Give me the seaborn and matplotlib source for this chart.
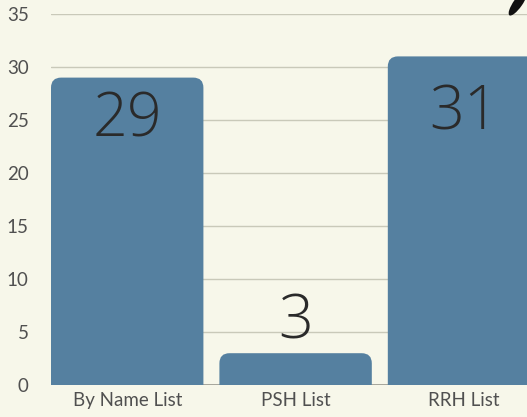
import matplotlib
matplotlib.use("Agg")
import matplotlib.pyplot as plt
from matplotlib.patches import FancyBboxPatch, Ellipse
import seaborn as sns
import pandas as pd

categories = ["By Name List", "PSH List", "RRH List"]
counts = [29, 3, 31]
# where each big number sits (baseline, in data units)
label_y = [23.4, 4.4, 24.1]

bg = "#f7f7ea"
bar_color = "#5580a0"

sns.set_theme(style="whitegrid")
plt.rcParams["font.family"] = ["Lato", "DejaVu Sans"]

df = pd.DataFrame({"list": categories, "count": counts})

fig = plt.figure(figsize=(5.27, 4.17), dpi=100, facecolor=bg)
ax = fig.add_axes([51 / 527, 32 / 417, 1 - 51 / 527, 371 / 417])
ax.set_facecolor(bg)

sns.barplot(data=df, x="list", y="count", color=bar_color, width=0.905,
            saturation=1, ax=ax, zorder=2)

ax.set_ylim(0, 35)
ax.set_xlim(-0.4525, 2.374)

# swap plain bars for ones with rounded tops
ratio = (168.5 / 10.6)
for p in list(ax.patches):
    x, w, h = p.get_x(), p.get_width(), p.get_height()
    rb = FancyBboxPatch((x, -2), w, h + 2,
                        boxstyle="round,pad=0,rounding_size=0.06",
                        mutation_aspect=ratio,
                        facecolor=bar_color, edgecolor="none", zorder=2)
    p.remove()
    ax.add_patch(rb)

for i, v in enumerate(counts):
    ax.text(i, label_y[i], str(v), ha="center", va="baseline", fontsize=44,
            family="Open Sans", fontweight="light", color="#2a2a2a", zorder=3)

ax.set_yticks(range(0, 36, 5))
ax.grid(axis="y", color="#c9c9b9", linewidth=1)
ax.grid(axis="x", visible=False)
ax.axhline(0, color="#9a9a90", linewidth=1.2, zorder=1)
for s in ax.spines.values():
    s.set_visible(False)
ax.tick_params(axis="both", length=0, labelsize=13.5, labelcolor="#505050")
ax.tick_params(axis="y", pad=16)
ax.tick_params(axis="x", pad=5)
ax.set_xlabel("")
ax.set_ylabel("")

# dark brush stroke peeking in at the top right corner
fig.patches.append(Ellipse((518, 414), 30, 9, angle=55, transform=None,
                           facecolor="#111111", edgecolor="none"))

fig.savefig("out.png", dpi=100, facecolor=bg)
